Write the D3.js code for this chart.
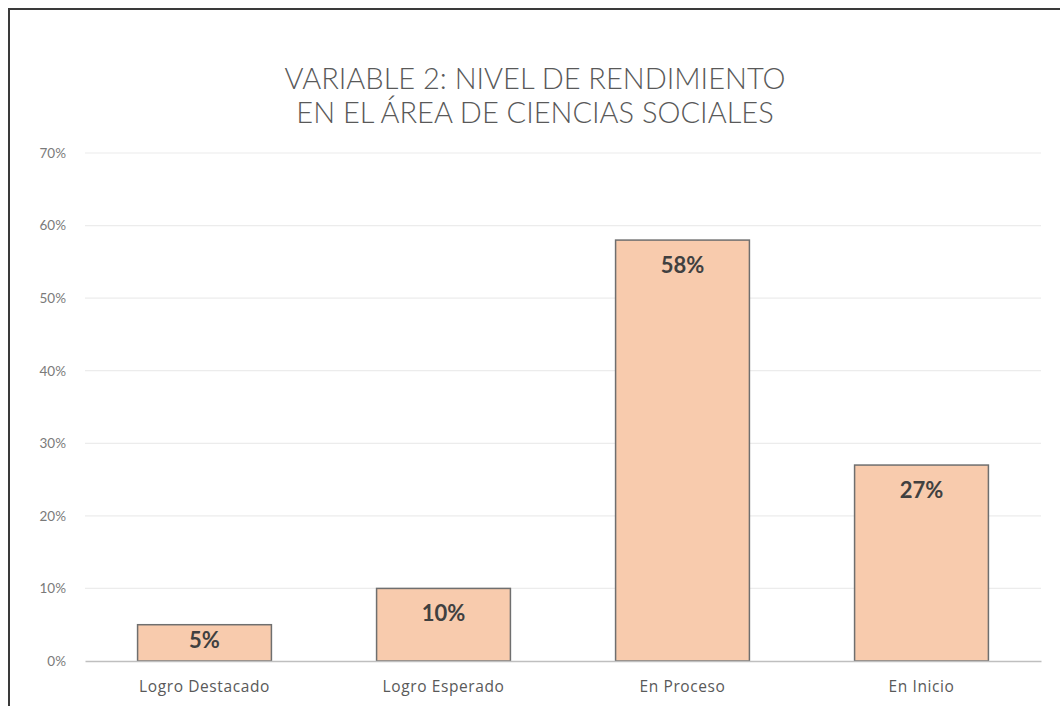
<!DOCTYPE html>
<html>
<head>
<meta charset="utf-8">
<script src="https://cdn.jsdelivr.net/npm/d3@7"></script>
<style>
  body { margin: 0; background: #fff; }
  svg { display: block; }
</style>
</head>
<body>
<svg id="chart" width="1060" height="706"></svg>
<script>
const categories = ["Logro Destacado", "Logro Esperado", "En Proceso", "En Inicio"];
const values = [0.05, 0.10, 0.58, 0.27];
const yTicks = [0, 0.1, 0.2, 0.3, 0.4, 0.5, 0.6, 0.7];
const titleLines = ["VARIABLE 2: NIVEL DE RENDIMIENTO", "EN EL ÁREA DE CIENCIAS SOCIALES"];

const svg = d3.select("#chart");
const width = 1060, height = 706;

// outer frame of the chart, only top and left edges are visible
svg.append("path")
  .attr("d", `M9,${height}V9H${width}`)
  .attr("fill", "none")
  .attr("stroke", "#3a3a3a")
  .attr("stroke-width", 2);

const margin = { top: 153, right: 19, bottom: 45, left: 85 };
const innerWidth = width - margin.left - margin.right;
const innerHeight = 661 - margin.top;

const g = svg.append("g")
  .attr("transform", `translate(${margin.left},${margin.top})`);

const x = d3.scaleBand()
  .domain(categories)
  .range([0, innerWidth])
  .paddingInner(0.44)
  .paddingOuter(0.22);

const y = d3.scaleLinear()
  .domain([0, 0.7])
  .range([innerHeight, 0]);

// gridlines
g.selectAll(".grid")
  .data(yTicks.filter(d => d > 0))
  .enter()
  .append("line")
  .attr("class", "grid")
  .attr("x1", 0).attr("x2", innerWidth)
  .attr("y1", d => y(d)).attr("y2", d => y(d))
  .attr("stroke", "#ececec")
  .attr("stroke-width", 1.2);

// y tick labels
const yAxis = g.append("g")
  .call(d3.axisLeft(y).tickValues(yTicks).tickFormat(d3.format(".0%")).tickSize(0).tickPadding(19));
yAxis.select(".domain").remove();
yAxis.selectAll("text")
  .attr("fill", "#7a7a7a")
  .style("font-family", "Lato, 'Open Sans', sans-serif")
  .style("font-size", "13.5px");

// bars
g.selectAll(".bar")
  .data(values)
  .enter()
  .append("rect")
  .attr("class", "bar")
  .attr("x", (d, i) => x(categories[i]))
  .attr("y", d => y(d))
  .attr("width", x.bandwidth())
  .attr("height", d => innerHeight - y(d))
  .attr("fill", "#F8CBAD")
  .attr("stroke", "#6f6f6f")
  .attr("stroke-width", 1.5);

// bar value labels, inside the top end of each bar
g.selectAll(".val")
  .data(values)
  .enter()
  .append("text")
  .attr("class", "val")
  .attr("x", (d, i) => x(categories[i]) + x.bandwidth() / 2)
  .attr("y", d => Math.min(y(d) + 33, innerHeight - 13))
  .attr("text-anchor", "middle")
  .attr("fill", "#404040")
  .style("font-family", "Lato, 'Open Sans', sans-serif")
  .style("font-weight", "bold")
  .style("font-size", "22px")
  .text(d => d3.format(".0%")(d));

// x axis baseline and labels
const xAxis = g.append("g")
  .attr("transform", `translate(0,${innerHeight})`)
  .call(d3.axisBottom(x).tickSize(0).tickPadding(20));
xAxis.select(".domain")
  .attr("stroke", "#bfbfbf")
  .attr("stroke-width", 1.5);
xAxis.selectAll("text")
  .attr("fill", "#595959")
  .style("font-family", "'Open Sans', Lato, sans-serif")
  .style("font-size", "15.5px")
  .style("letter-spacing", "0.6px");

// title
svg.append("g")
  .selectAll("text")
  .data(titleLines)
  .enter()
  .append("text")
  .attr("x", 535)
  .attr("y", (d, i) => 89 + i * 34)
  .attr("text-anchor", "middle")
  .attr("fill", "#595959")
  .style("font-family", "Lato, 'Open Sans', sans-serif")
  .style("font-weight", "300")
  .style("font-size", "29px")
  .text(d => d);
</script>
</body>
</html>
